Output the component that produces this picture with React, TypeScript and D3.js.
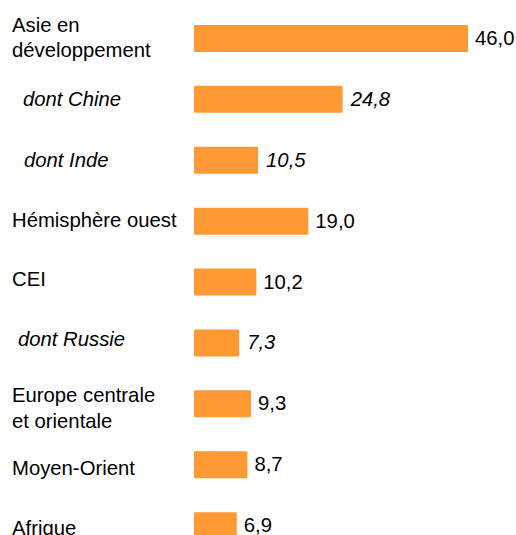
import { useEffect, useRef } from 'react'
import * as d3 from 'd3'

// libellés (chaque entrée = lignes du libellé), valeurs, sous-catégories en italique
const LABELS = [
  ['Asie en', 'développement'],
  ['dont Chine'],
  ['dont Inde'],
  ['Hémisphère ouest'],
  ['CEI'],
  ['dont Russie'],
  ['Europe centrale', 'et orientale'],
  ['Moyen-Orient'],
  ['Afrique'],
]
const VALUES = [46.0, 24.8, 10.5, 19.0, 10.2, 7.3, 9.3, 8.7, 6.9]
const ITALIC = [false, true, true, false, false, true, false, false, false]

// petits décalages de mise en page des libellés (px) : [dx, dy de la 1re ligne]
const LABEL_DX = [12, 23, 24, 12, 12, 18, 12, 12, 12]
const LABEL_DY = [-6.5, 7, 6.5, 5.5, 3.5, 3.5, -1.5, 10.5, 9.5]

const W = 516
const H = 535
const ORANGE = '#FF9933'
const FS = 20.3
const fmt = (v: number) => v.toFixed(1).replace('.', ',')

export default function App() {
  const svgRef = useRef<SVGSVGElement>(null)

  useEffect(() => {
    const svg = d3.select(svgRef.current)
    svg.selectAll('*').remove()

    const idx = VALUES.map((_, i) => i)
    const y = d3.scaleBand<number>().domain(idx).range([8, 8 + 60.9 * 9]).paddingInner(0.557).paddingOuter(0.2785)
    const x = d3.scaleLinear().domain([0, 46]).range([196, 468])
    const x0 = x(0) - 2
    const bh = y.bandwidth()
    const cy = (i: number) => (y(i) ?? 0) + bh / 2

    const font = "'Liberation Sans', Arial, sans-serif"

    svg.append('g').selectAll('rect')
      .data(idx)
      .join('rect')
      .attr('x', x0)
      .attr('y', i => y(i) ?? 0)
      .attr('width', i => x(VALUES[i]) - x0)
      .attr('height', bh)
      .attr('rx', 1)
      .attr('fill', ORANGE)

    // valeurs
    svg.append('g').selectAll('text')
      .data(idx)
      .join('text')
      .attr('x', i => x(VALUES[i]) + (ITALIC[i] ? 8 : 7))
      .attr('y', i => cy(i) + 6.5)
      .attr('font-family', font)
      .attr('font-size', FS)
      .attr('font-style', i => ITALIC[i] ? 'italic' : 'normal')
      .attr('fill', '#000')
      .text(i => fmt(VALUES[i]))

    // libellés
    const lab = svg.append('g').selectAll('text')
      .data(idx)
      .join('text')
      .attr('x', i => LABEL_DX[i])
      .attr('y', i => cy(i) + LABEL_DY[i])
      .attr('font-family', font)
      .attr('font-size', FS)
      .attr('font-style', i => ITALIC[i] ? 'italic' : 'normal')
      .attr('fill', '#000')

    lab.selectAll('tspan')
      .data(i => LABELS[i].map((s, k) => ({ s, k, i })))
      .join('tspan')
      .attr('x', d => LABEL_DX[d.i])
      .attr('dy', d => d.k === 0 ? 0 : 25.5)
      .text(d => d.s)
  }, [])

  return (
    <svg ref={svgRef} width={W} height={H}
      style={{ position: 'absolute', left: 0, top: 0, background: '#fff' }} />
  )
}
